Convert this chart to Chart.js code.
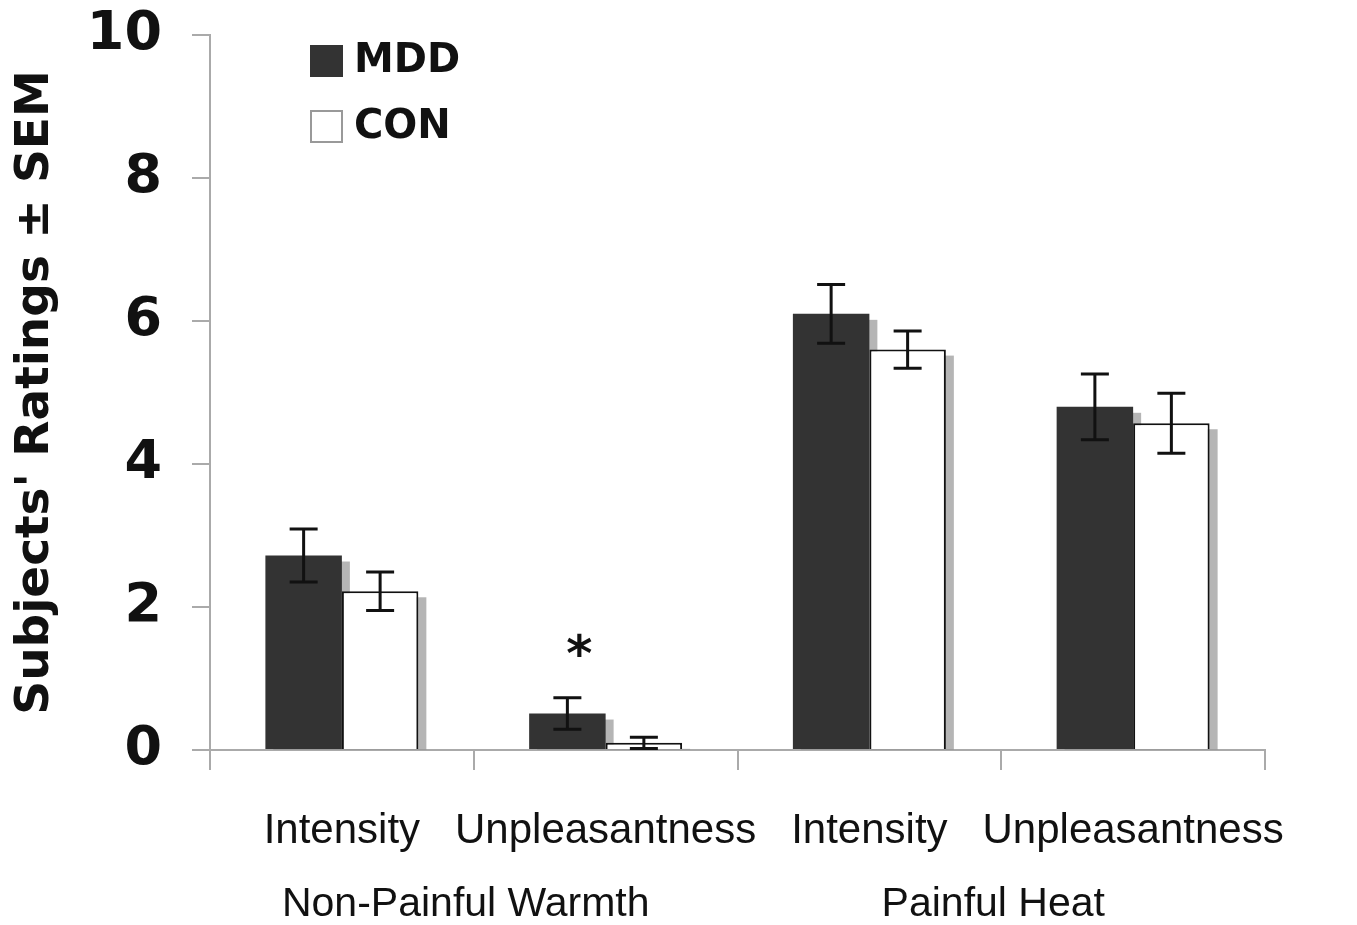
<!DOCTYPE html>
<html>
<head>
<meta charset="utf-8">
<script src="https://cdn.jsdelivr.net/npm/chart.js@4.4.1/dist/chart.umd.min.js"></script>
<style>
  html, body { margin: 0; padding: 0; background: #fff; }
  #wrap { width: 1357px; height: 925px; }
</style>
</head>
<body>
<div id="wrap"><canvas id="chart" width="1357" height="925"></canvas></div>
<script>
// data
const categories = ['Intensity', 'Unpleasantness', 'Intensity', 'Unpleasantness'];
const groups = ['Non-Painful Warmth', 'Painful Heat'];
const mddMeans = [2.72, 0.51, 6.1, 4.8];
const mddSem = [0.37, 0.22, 0.41, 0.46];
const conMeans = [2.22, 0.1, 5.6, 4.57];
const conSem = [0.27, 0.08, 0.26, 0.42];
const significant = [false, true, false, false];
const yTicks = [0, 2, 4, 6, 8, 10];

// grey drop shadow behind each bar
const barShadow = {
  id: 'barShadow',
  beforeDatasetsDraw(chart) {
    const ctx = chart.ctx;
    const area = chart.chartArea;
    ctx.save();
    ctx.beginPath();
    ctx.rect(area.left, area.top - 20, area.right - area.left + 20, area.bottom - area.top + 20);
    ctx.clip();
    ctx.fillStyle = 'rgba(150,150,150,0.7)';
    chart.data.datasets.forEach((ds, i) => {
      chart.getDatasetMeta(i).data.forEach(bar => {
        const w = bar.width;
        ctx.fillRect(bar.x - w / 2 + 8, bar.y + 6, w, bar.base - bar.y);
      });
    });
    ctx.restore();
  }
};

// error bars, asterisk, legend and group labels
const extras = {
  id: 'extras',
  afterDatasetsDraw(chart) {
    const ctx = chart.ctx;
    const y = chart.scales.y;
    const x = chart.scales.x;
    const sems = [mddSem, conSem];
    ctx.save();
    ctx.strokeStyle = '#111';
    ctx.lineWidth = 3;
    chart.data.datasets.forEach((ds, i) => {
      chart.getDatasetMeta(i).data.forEach((bar, j) => {
        const top = y.getPixelForValue(ds.data[j] + sems[i][j]);
        const bot = y.getPixelForValue(Math.max(0, ds.data[j] - sems[i][j]));
        ctx.beginPath();
        ctx.moveTo(bar.x, top); ctx.lineTo(bar.x, bot);
        ctx.moveTo(bar.x - 14, top); ctx.lineTo(bar.x + 14, top);
        ctx.moveTo(bar.x - 14, bot); ctx.lineTo(bar.x + 14, bot);
        ctx.stroke();
      });
    });

    // significance marker
    ctx.fillStyle = '#111';
    ctx.font = 'bold 50px "DejaVu Sans"';
    ctx.textAlign = 'center';
    ctx.textBaseline = 'middle';
    const mddMeta = chart.getDatasetMeta(0);
    significant.forEach((s, j) => {
      if (!s) return;
      const bar = mddMeta.data[j];
      const top = y.getPixelForValue(mddMeans[j] + mddSem[j]);
      ctx.fillText('*', bar.x + 12, top - 40);
    });

    // legend
    const area = chart.chartArea;
    const lx = area.left + 100, ly = area.top + 10;
    ctx.fillStyle = '#333';
    ctx.fillRect(lx, ly, 33, 32);
    ctx.strokeStyle = '#999';
    ctx.lineWidth = 2;
    ctx.strokeRect(lx + 1, ly + 66, 31, 31);
    ctx.fillStyle = '#111';
    ctx.font = 'bold 40px "DejaVu Sans"';
    ctx.textAlign = 'left';
    ctx.fillText('MDD', lx + 44, ly + 17);
    ctx.fillText('CON', lx + 44, ly + 83);

    // group labels under the category labels
    ctx.font = '41px "Liberation Sans", Arial, sans-serif';
    ctx.textAlign = 'center';
    groups.forEach((g, k) => {
      const cx = (x.getPixelForValue(k * 2) + x.getPixelForValue(k * 2 + 1)) / 2;
      ctx.fillText(g, cx - 8, area.bottom + 155);
    });
    ctx.restore();
  }
};

new Chart(document.getElementById('chart'), {
  type: 'bar',
  data: {
    labels: categories,
    datasets: [
      {
        label: 'MDD',
        data: mddMeans,
        backgroundColor: '#333333',
        borderWidth: 0,
        categoryPercentage: 0.58,
        barPercentage: 1.0
      },
      {
        label: 'CON',
        data: conMeans,
        backgroundColor: '#ffffff',
        borderColor: '#111111',
        borderWidth: 2,
        categoryPercentage: 0.58,
        barPercentage: 1.0
      }
    ]
  },
  plugins: [barShadow, extras],
  options: {
    responsive: false,
    animation: false,
    layout: { padding: { top: 0, right: 92, left: 0, bottom: 0 } },
    plugins: {
      legend: { display: false },
      tooltip: { enabled: false }
    },
    scales: {
      x: {
        grid: {
          offset: true,
          drawOnChartArea: false,
          drawTicks: true,
          tickLength: 20,
          color: '#aaaaaa',
          lineWidth: 2
        },
        border: { color: '#aaaaaa', width: 2 },
        ticks: {
          color: '#111',
          padding: 36,
          autoSkip: false,
          maxRotation: 0,
          minRotation: 0,
          font: { family: '"Liberation Sans", Arial, sans-serif', size: 42 }
        },
        afterFit(scale) { scale.height = 175; }
      },
      y: {
        min: 0,
        max: 10,
        afterBuildTicks(scale) {
          scale.ticks = yTicks.map(v => ({ value: v }));
        },
        grid: {
          drawOnChartArea: false,
          drawTicks: true,
          tickLength: 18,
          color: '#aaaaaa',
          lineWidth: 2
        },
        border: { color: '#aaaaaa', width: 2 },
        ticks: {
          color: '#111',
          padding: 30,
          font: { family: '"DejaVu Sans"', size: 54, weight: 'bold' }
        },
        title: {
          display: true,
          text: "Subjects' Ratings \u00b1 SEM",
          color: '#111',
          padding: { top: 8, bottom: 0 },
          font: { family: '"DejaVu Sans"', size: 47, weight: 'bold' }
        },
        afterFit(scale) {
          scale.width = 210;
          scale.paddingTop = 35;
          scale.paddingBottom = 0;
        }
      }
    }
  }
});
</script>
</body>
</html>
